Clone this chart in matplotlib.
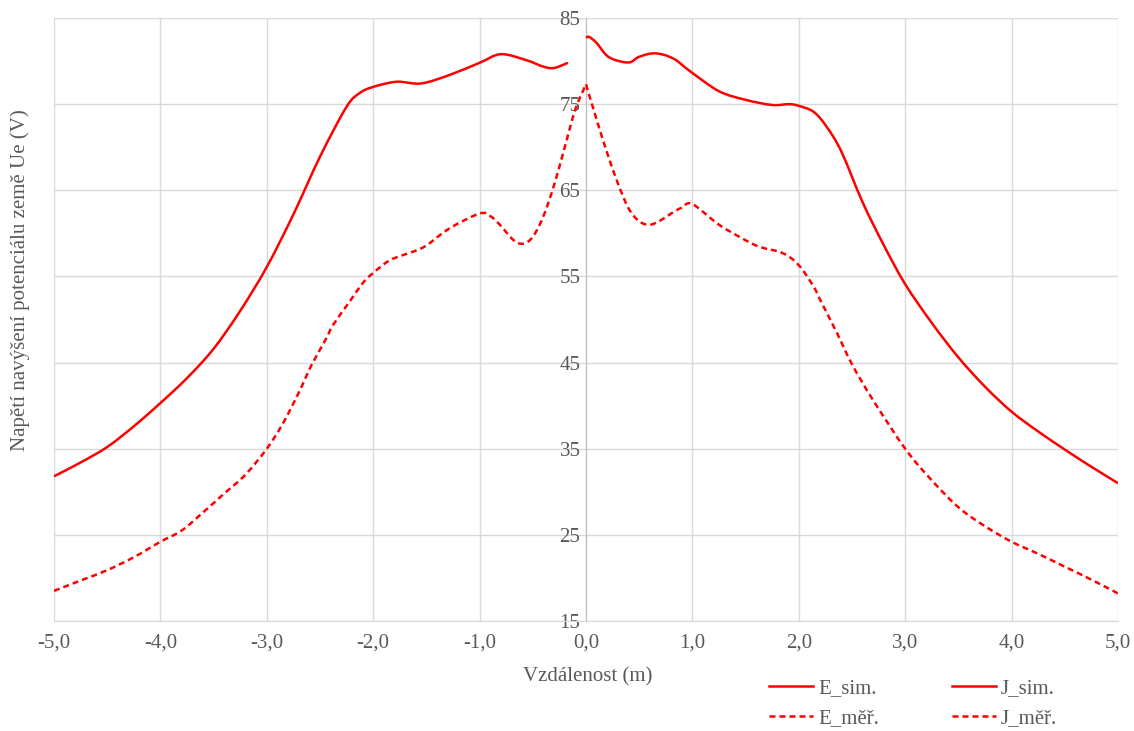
import matplotlib
matplotlib.use("Agg")
import matplotlib.pyplot as plt
from matplotlib.path import Path
from matplotlib.patches import PathPatch
from matplotlib.lines import Line2D

plt.rcParams["font.family"] = ["Liberation Serif", "DejaVu Serif"]

# E_sim. (simulace, levá strana)
e_sim_x = [-5.0, -4.75, -4.5, -4.25, -4.0, -3.75, -3.5, -3.25, -3.0, -2.75,
           -2.5, -2.25, -2.125, -2.0, -1.78, -1.55, -1.28, -1.0, -0.8, -0.56,
           -0.4, -0.3, -0.17]
e_sim_y = [31.8, 33.4, 35.2, 37.6, 40.3, 43.2, 46.6, 51.0, 56.1, 62.2,
           68.9, 74.7, 76.3, 77.0, 77.6, 77.4, 78.4, 79.8, 80.8, 80.1,
           79.35, 79.2, 79.8]

# J_sim. (simulace, pravá strana)
j_sim_x = [0.0, 0.03, 0.1, 0.19, 0.28, 0.41, 0.5, 0.65, 0.82, 0.98, 1.25, 1.5, 1.75,
           1.91, 2.0, 2.14, 2.26, 2.4, 2.6, 2.8, 3.0, 3.25, 3.5, 3.75, 4.0, 4.25,
           4.5, 4.75, 5.0]
j_sim_y = [82.7, 82.8, 82.1, 80.7, 80.1, 79.85, 80.5, 80.9, 80.3, 78.8, 76.5, 75.5, 74.9,
           75.0, 74.8, 74.1, 72.4, 69.5, 63.6, 58.6, 54.1, 49.6, 45.6, 42.2, 39.3, 37.0,
           34.9, 32.9, 31.0]

# E_měř. (měření, levá strana)
e_mer_x = [-5.0, -4.75, -4.5, -4.25, -4.0, -3.8, -3.6, -3.4, -3.2, -3.0, -2.85, -2.7,
           -2.58, -2.45, -2.375, -2.22, -2.1, -2.0, -1.84, -1.62, -1.5, -1.28, -1.0,
           -0.9, -0.81, -0.68, -0.59, -0.5, -0.4, -0.3, -0.2, -0.1, 0.0]
e_mer_y = [18.5, 19.7, 20.9, 22.4, 24.2, 25.5, 27.6, 29.8, 32.0, 35.0, 37.9, 41.5,
           44.7, 47.6, 49.4, 52.1, 54.2, 55.4, 56.9, 57.9, 58.6, 60.6, 62.3,
           62.0, 61.0, 59.2, 58.8, 59.6, 62.0, 65.6, 70.0, 74.4, 77.3]

# J_měř. (měření, pravá strana)
j_mer_x = [0.0, 0.1, 0.2, 0.3, 0.4, 0.5, 0.6, 0.7, 0.8, 0.9, 1.0, 1.25, 1.5, 1.64,
           1.85, 2.0, 2.14, 2.2, 2.36, 2.5, 2.7, 3.0, 3.23, 3.5, 3.75, 4.0, 4.25, 4.5,
           4.75, 5.0]
j_mer_y = [77.3, 73.2, 69.3, 65.8, 62.9, 61.4, 61.0, 61.5, 62.3, 63.0, 63.4, 61.0, 59.2,
           58.4, 57.7, 56.3, 53.8, 52.3, 48.4, 44.8, 40.6, 35.0, 31.6, 28.2, 26.0, 24.2,
           22.8, 21.3, 19.8, 18.2]

x_ticks = [-5, -4, -3, -2, -1, 0, 1, 2, 3, 4, 5]
y_ticks = [15, 25, 35, 45, 55, 65, 75, 85]

TEXT = "#595959"
GRID = "#d9d9d9"
RED = "#ff0000"
FS = 15
LW = 1.8
DASH = (0, (2.4, 1.6))


def smooth_line(ax, xs, ys, ls):
    """Vyhlazená čára jako v Excelu (Catmull-Rom -> kubické Bézierovy křivky)."""
    pts = list(zip(xs, ys))
    n = len(pts)
    verts = [pts[0]]
    codes = [Path.MOVETO]
    for i in range(n - 1):
        p0 = pts[max(i - 1, 0)]
        p1 = pts[i]
        p2 = pts[i + 1]
        p3 = pts[min(i + 2, n - 1)]
        c1 = (p1[0] + (p2[0] - p0[0]) / 6, p1[1] + (p2[1] - p0[1]) / 6)
        c2 = (p2[0] - (p3[0] - p1[0]) / 6, p2[1] - (p3[1] - p1[1]) / 6)
        verts += [c1, c2, p2]
        codes += [Path.CURVE4] * 3
    patch = PathPatch(Path(verts, codes), fill=False, edgecolor=RED, lw=LW,
                      linestyle=ls, capstyle="butt", zorder=3)
    ax.add_patch(patch)


fig = plt.figure(figsize=(11.34, 7.31), dpi=100)
ax = fig.add_axes([54 / 1134, 1 - 621 / 731, (1118 - 54) / 1134, (621 - 18) / 731])

smooth_line(ax, e_sim_x, e_sim_y, "-")
smooth_line(ax, e_mer_x, e_mer_y, DASH)
smooth_line(ax, j_sim_x, j_sim_y, "-")
smooth_line(ax, j_mer_x, j_mer_y, DASH)

ax.set_xlim(-5, 5)
ax.set_ylim(15, 85)
ax.set_xticks(x_ticks)
ax.set_xticklabels([f"{v:.1f}".replace(".", ",") for v in x_ticks])
ax.set_yticks(y_ticks)
ax.grid(True, color=GRID, lw=1.0, zorder=0)
ax.set_axisbelow(True)

for s in ["top", "right"]:
    ax.spines[s].set_visible(False)
ax.spines["left"].set_position(("data", 0))
ax.spines["left"].set_color("#bfbfbf")
ax.spines["bottom"].set_color(GRID)
ax.tick_params(axis="both", length=0, labelsize=FS, labelcolor=TEXT)
ax.tick_params(axis="x", pad=9)
ax.tick_params(axis="y", pad=4)

fig.text(588 / 1134, 1 - 677 / 731, "Vzdálenost (m)", ha="center", va="center",
         fontsize=FS, color=TEXT)
fig.text(20 / 1134, 1 - 280 / 731, "Napětí navýšení potenciálu země Ue (V)", ha="center",
         va="center", rotation=90, fontsize=FS, color=TEXT)

handles = [
    Line2D([], [], color=RED, lw=LW, label="E_sim."),
    Line2D([], [], color=RED, lw=LW, ls=DASH, label="E_měř."),
    Line2D([], [], color=RED, lw=LW, label="J_sim."),
    Line2D([], [], color=RED, lw=LW, ls=DASH, label="J_měř."),
]
leg = fig.legend(handles=handles, loc="upper left",
                 bbox_to_anchor=(769 / 1134, 1 - 679 / 731), ncol=2,
                 frameon=False, fontsize=FS, handlelength=2.1, handletextpad=0.25,
                 columnspacing=3.5, labelspacing=0.5, borderpad=0, borderaxespad=0)
for t in leg.get_texts():
    t.set_color(TEXT)

fig.savefig("out.png", dpi=100)
